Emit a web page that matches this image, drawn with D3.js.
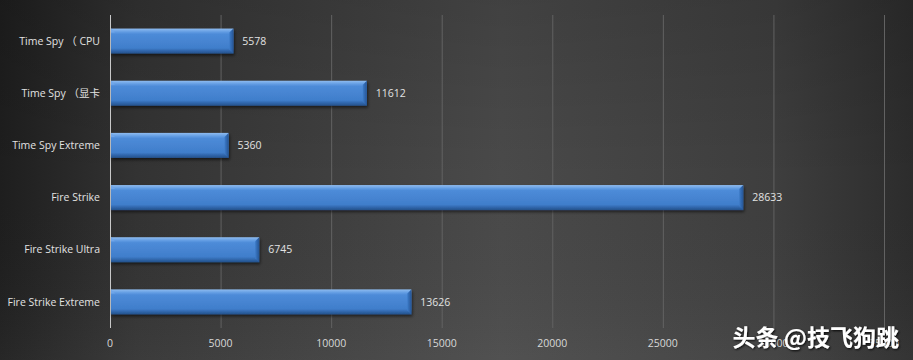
<!DOCTYPE html>
<html>
<head>
<meta charset="utf-8">
<script src="https://cdn.jsdelivr.net/npm/d3@7"></script>
<style>
  body { margin: 0; background: #333; }
  #chart-container { width: 913px; height: 360px; }
</style>
</head>
<body>
<div id="chart-container"></div>
<script>
// Benchmark names and scores
const categories = ["Time Spy （ CPU", "Time Spy （显卡", "Time Spy Extreme", "Fire Strike", "Fire Strike Ultra", "Fire Strike Extreme"];
const scores = [5578, 11612, 5360, 28633, 6745, 13626];
const xTicks = [0, 5000, 10000, 15000, 20000, 25000, 30000, 35000];

const width = 913;
const height = 360;
const marginTop = 15;
const marginRight = 29;
const marginBottom = 32;
const marginLeft = 110;

const x = d3.scaleLinear()
  .domain([0, 35000])
  .range([marginLeft, width - marginRight]);

const y = d3.scaleBand()
  .domain(categories)
  .range([marginTop, height - marginBottom])
  .paddingInner(0.52)
  .paddingOuter(0.26);

const svg = d3.create("svg")
  .attr("width", width)
  .attr("height", height)
  .attr("viewBox", [0, 0, width, height]);

const defs = svg.append("defs");

// background: dark on the left, lighter in the middle, darker again at the right edge
const bg = defs.append("linearGradient").attr("id", "bg").attr("x1", 0).attr("x2", 1).attr("y1", 0).attr("y2", 0);
bg.append("stop").attr("offset", "0%").attr("stop-color", "#1e1e1e");
bg.append("stop").attr("offset", "15%").attr("stop-color", "#333333");
bg.append("stop").attr("offset", "55%").attr("stop-color", "#4a4a4a");
bg.append("stop").attr("offset", "85%").attr("stop-color", "#3e3e3e");
bg.append("stop").attr("offset", "100%").attr("stop-color", "#2c2c2c");

const bgV = defs.append("linearGradient").attr("id", "bgV").attr("x1", 0).attr("x2", 0).attr("y1", 0).attr("y2", 1);
bgV.append("stop").attr("offset", "0%").attr("stop-color", "#000").attr("stop-opacity", 0.12);
bgV.append("stop").attr("offset", "50%").attr("stop-color", "#000").attr("stop-opacity", 0);
bgV.append("stop").attr("offset", "100%").attr("stop-color", "#fff").attr("stop-opacity", 0.04);

// bar bevel
const barGrad = defs.append("linearGradient").attr("id", "barGrad").attr("x1", 0).attr("x2", 0).attr("y1", 0).attr("y2", 1);
barGrad.append("stop").attr("offset", "0%").attr("stop-color", "#8fbcf0");
barGrad.append("stop").attr("offset", "14%").attr("stop-color", "#609be2");
barGrad.append("stop").attr("offset", "22%").attr("stop-color", "#4d8bd8");
barGrad.append("stop").attr("offset", "78%").attr("stop-color", "#407ecb");
barGrad.append("stop").attr("offset", "88%").attr("stop-color", "#3168ae");
barGrad.append("stop").attr("offset", "100%").attr("stop-color", "#24518a");

const endGrad = defs.append("linearGradient").attr("id", "endGrad").attr("x1", 0).attr("x2", 1).attr("y1", 0).attr("y2", 0);
endGrad.append("stop").attr("offset", "0%").attr("stop-color", "#3d7bc8");
endGrad.append("stop").attr("offset", "100%").attr("stop-color", "#255596");

const shadow = defs.append("filter").attr("id", "shadow").attr("x", "-5%").attr("y", "-30%").attr("width", "110%").attr("height", "180%");
shadow.append("feDropShadow").attr("dx", 1).attr("dy", 2).attr("stdDeviation", 1.5)
  .attr("flood-color", "#000").attr("flood-opacity", 0.55);

const wmShadow = defs.append("filter").attr("id", "wmShadow");
wmShadow.append("feDropShadow").attr("dx", 1).attr("dy", 1).attr("stdDeviation", 1)
  .attr("flood-color", "#000").attr("flood-opacity", 0.9);

svg.append("rect").attr("width", width).attr("height", height).attr("fill", "url(#bg)");
svg.append("rect").attr("width", width).attr("height", height).attr("fill", "url(#bgV)");

// gridlines
svg.append("g")
  .selectAll("line")
  .data(xTicks.slice(1))
  .join("line")
  .attr("x1", d => x(d) + 0.5)
  .attr("x2", d => x(d) + 0.5)
  .attr("y1", marginTop)
  .attr("y2", height - marginBottom)
  .attr("stroke", "#626262")
  .attr("stroke-width", 1);

// value axis labels
svg.append("g")
  .selectAll("text")
  .data(xTicks)
  .join("text")
  .attr("x", d => x(d))
  .attr("y", height - 13)
  .attr("text-anchor", "middle")
  .attr("font-family", "'Open Sans', 'Noto Sans', sans-serif")
  .attr("font-size", "10.5px")
  .attr("fill", "#d8d8d8")
  .text(d => d);

// category axis line
svg.append("line")
  .attr("x1", x(0) + 0.5)
  .attr("x2", x(0) + 0.5)
  .attr("y1", marginTop)
  .attr("y2", height - marginBottom)
  .attr("stroke", "#c8c8c8")
  .attr("stroke-width", 1);

// bars
const bars = svg.append("g")
  .selectAll("g")
  .data(categories)
  .join("g")
  .attr("filter", "url(#shadow)");

bars.append("rect")
  .attr("x", x(0) + 1)
  .attr("y", d => y(d))
  .attr("width", (d, i) => x(scores[i]) - x(0) - 1)
  .attr("height", y.bandwidth())
  .attr("fill", "url(#barGrad)");

// bevelled right end
bars.append("path")
  .attr("d", (d, i) => {
    const xe = x(scores[i]);
    const y0 = y(d), h = y.bandwidth(), b = 4;
    return `M${xe - b},${y0 + b} L${xe},${y0} L${xe},${y0 + h} L${xe - b},${y0 + h - b} Z`;
  })
  .attr("fill", "url(#endGrad)");

// bevelled left start highlight
bars.append("path")
  .attr("d", d => {
    const x0 = x(0) + 1;
    const y0 = y(d), b = 4;
    return `M${x0},${y0} L${x0 + b},${y0 + b} L${x0},${y0 + b} Z`;
  })
  .attr("fill", "#6fa6ea");

// value labels
svg.append("g")
  .selectAll("text")
  .data(categories)
  .join("text")
  .attr("x", (d, i) => x(scores[i]) + 9)
  .attr("y", d => y(d) + y.bandwidth() / 2)
  .attr("dy", "0.35em")
  .attr("font-family", "'Open Sans', 'Noto Sans', sans-serif")
  .attr("font-size", "10.5px")
  .attr("fill", "#e2e2e2")
  .text((d, i) => scores[i]);

// category labels
svg.append("g")
  .selectAll("text")
  .data(categories)
  .join("text")
  .attr("x", marginLeft - 10)
  .attr("y", d => y(d) + y.bandwidth() / 2)
  .attr("dy", "0.35em")
  .attr("text-anchor", "end")
  .attr("font-family", "'Open Sans', 'Noto Sans', 'Noto Sans CJK SC', sans-serif")
  .attr("font-size", "10.5px")
  .attr("fill", "#e2e2e2")
  .text(d => d);

// watermark
svg.append("text")
  .attr("x", 899)
  .attr("y", 346)
  .attr("text-anchor", "end")
  .attr("font-family", "'Noto Sans CJK SC', sans-serif")
  .attr("font-size", "23px")
  .attr("font-weight", "bold")
  .attr("fill", "#ffffff")
  .attr("filter", "url(#wmShadow)")
  .text("头条 @技飞狗跳");

document.getElementById("chart-container").appendChild(svg.node());
</script>
</body>
</html>
